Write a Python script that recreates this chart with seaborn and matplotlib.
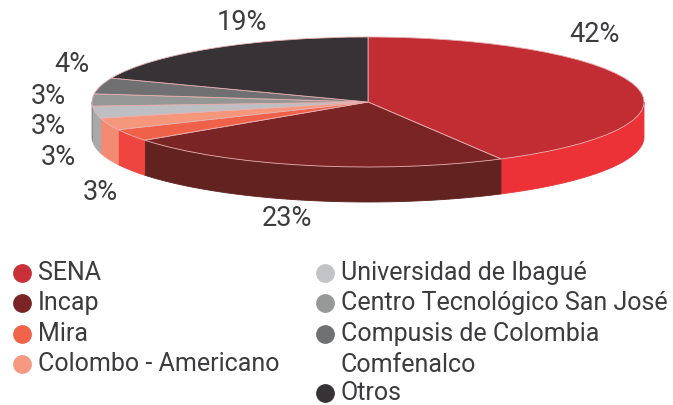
import numpy as np
import matplotlib
matplotlib.use("Agg")
import matplotlib.pyplot as plt
import seaborn as sns

# data
names = ["SENA", "Incap", "Mira", "Colombo - Americano", "Universidad de Ibagué",
         "Centro Tecnológico San José", "Compusis de Colombia\nComfenalco", "Otros"]
shares = [42, 23, 3, 3, 3, 3, 4, 19]
top_colors = ["#C22D34", "#7B2425", "#F0614A", "#F4977A", "#BEBFC3", "#959797", "#707072", "#363236"]
side_colors = ["#EC3237", "#62221F", "#EE4540", "#F28B72", "#A7A9AC", "#8A8C8E", "#666668", "#2E2A2E"]
legend_colors = ["#C9303A", "#7B2425", "#F2634C", "#F59A80", "#C2C3C7", "#979999", "#707173", "#363236"]

sns.set_theme(style="white")
plt.rcParams["font.family"] = ["Roboto", "DejaVu Sans"]
txt = "#3C3B3D"

W, H = 673, 405
fig = plt.figure(figsize=(W / 100, H / 100), dpi=100)
ax = fig.add_axes([0, 0, 1, 1])

# pie geometry in pixels -> data units (radius = 1)
cx, cy = 368, 102          # centre of the top face
rx, ry = 276, 65           # semi-axes of ellipse
depth = 35 / ry            # thickness of the disc

# side walls (front half only)
frac = np.array(shares) / sum(shares)
ends = 90 - 360 * np.cumsum(frac)
starts = np.concatenate([[90], ends[:-1]])
for a0, a1, c in zip(starts, ends, side_colors):
    lo, hi = max(a1, -180), min(a0, 0)
    if lo < hi:
        t = np.radians(np.linspace(hi, lo, 60))
        xs = np.concatenate([np.cos(t), np.cos(t[::-1])])
        ys = np.concatenate([np.sin(t), np.sin(t[::-1]) - depth])
        ax.fill(xs, ys, color=c, lw=0.6, ec=c)

# top face
ax.pie(shares, colors=top_colors, startangle=90, counterclock=False, radius=1,
       wedgeprops=dict(linewidth=0.6, edgecolor="#E8B0B0"), frame=True)

ax.set_aspect("auto")
ax.set_xlim(-cx / rx, (W - cx) / rx)
ax.set_ylim(-(H - cy) / ry, cy / ry)
ax.axis("off")

# percentage labels (pixel positions of text centres)
label_px = [(595, 35), (287, 218), (100, 192), (58, 157), (48, 127), (48, 97), (72, 65), (242, 22)]
for s, (px, py) in zip(shares, label_px):
    fig.text(px / W, 1 - py / H, f"{s}%", fontsize=19.5, color=txt, ha="center", va="center")

# legend
col_x = [22, 325]
row_y = [273, 303, 334, 364, 393]
pos = [(0, 0), (0, 1), (0, 2), (0, 3), (1, 0), (1, 1), (1, 2), (1, 4)]
for name, c, (ci, ri) in zip(names, legend_colors, pos):
    x, y = col_x[ci], row_y[ri]
    fig.add_artist(plt.Line2D([x / W], [1 - y / H], marker="o", ms=12.5, color=c, mec=c,
                              transform=fig.transFigure))
    lines = name.split("\n")
    for k, ln in enumerate(lines):
        fig.text((x + 16) / W, 1 - (y + k * 31) / H, ln, fontsize=18, color=txt,
                 ha="left", va="center")

fig.savefig("out.png", dpi=100)
